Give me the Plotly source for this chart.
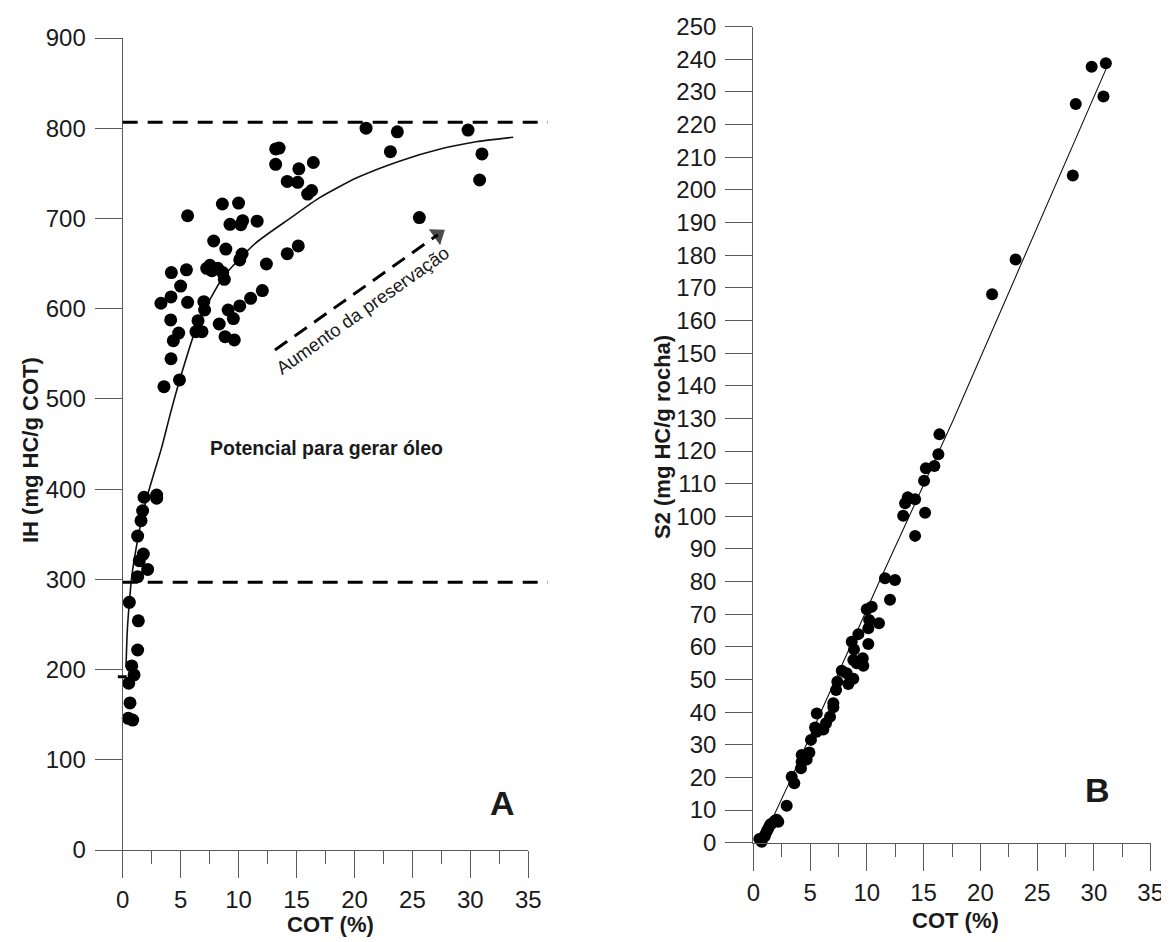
import plotly.graph_objects as go

# page body adds an 8 px margin; size the figure so the whole page matches 1169x942
PAGE_W, PAGE_H, BODY = 1169, 942, 8
W, H = PAGE_W - BODY, PAGE_H - BODY
FONT = "Liberation Sans, Arial, sans-serif"
INK = "#1a1a1a"
AXC = "#5a5a5a"


def fx(p):  # page pixel -> paper x
    return (p - BODY) / W


def fy(p):  # page pixel -> paper y
    return 1 - (p - BODY) / H


# ---------------- Panel A : IH vs COT ----------------
cot_a = [21.0, 23.7, 23.1, 13.5, 13.2, 13.2, 15.2, 16.45, 14.2, 15.1, 15.96, 16.3, 25.6,
         8.6, 10.0, 5.6, 9.26, 10.35, 10.2, 11.6, 7.85, 8.9, 10.3, 10.1, 12.4, 14.2, 15.15,
         7.53, 8.2, 7.25, 8.63, 8.77, 4.2, 5.5, 5.0, 4.17, 3.3, 5.6, 7.0, 7.07, 4.14, 4.83,
         4.37, 6.5, 6.32, 6.84, 9.1, 9.55, 8.33, 8.83, 9.63, 10.1, 11.04, 12.05, 4.17, 4.9,
         7.7, 29.8, 31.0, 30.8, 3.56, 1.84, 2.93, 2.93, 1.72, 1.58, 1.29, 1.78, 1.43, 2.15,
         1.29, 0.57, 1.35, 1.29, 0.78, 0.98, 0.52, 0.63, 0.48, 0.86]
ih_a = [800, 796, 774, 778, 777, 760, 755, 762, 741, 740, 727, 731, 701,
        716, 717, 703, 693.5, 697.5, 693, 697, 675, 666, 660.6, 654, 649.5, 661, 669.5,
        648, 644.7, 644.7, 640, 632.5, 640, 643, 625, 613, 606, 607, 607.7, 598.5, 587.5, 573,
        564.5, 586.7, 574.5, 574.5, 598.5, 589, 583, 569, 565.3, 603, 611.5, 620, 544.5, 521,
        642, 798, 771.5, 742.6, 513.5, 391, 393.5, 390, 376, 365, 348, 328, 320.7, 311,
        303, 274.5, 254, 221.7, 204, 194, 184.8, 163, 146, 144]

# trend curve
curve_a_x = [0.285, 0.40, 0.57, 0.78, 1.06, 1.35, 1.72, 2.07, 2.64, 3.36, 4.08, 4.94,
             6.5, 8.68, 11.5, 14.43, 17.0, 20.2, 24.0, 27.4, 30.5, 33.7]
curve_a_y = [203, 244, 274, 303, 327, 348, 372, 390, 415, 446, 482, 522,
             584, 635, 673, 700, 723, 745, 764, 777, 785, 790]

# reference levels (IH)
ih_levels = [806.6, 296.7]
level_x_end = 36.7
start_tick_ih = 192

# arrow "Aumento da preservação"
arrow_x = [13.14, 27.2]
arrow_y = [554.2, 682.0]

# ---------------- Panel B : S2 vs COT ----------------
cot_b = [16.39, 16.3, 15.95, 15.2, 15.04, 13.6, 14.25, 13.37, 13.2, 15.13, 14.25, 11.6, 12.48,
         12.04, 9.99, 10.43, 10.2, 11.07, 10.13, 9.25, 8.67, 10.13, 8.87, 9.64, 8.81, 9.69,
         9.11, 7.79, 8.23, 8.81, 7.4, 8.37, 7.29, 7.05, 7.05, 5.59, 6.76, 6.4, 5.44, 5.59, 6.17,
         5.08, 4.94, 4.26, 4.26, 4.2, 4.7, 3.38, 3.61, 2.94, 1.91, 1.47,
         0.53, 0.74, 1.03, 1.32, 1.62, 2.06, 2.2, 1.18, 1.0,
         31.05, 29.8, 30.84, 28.4, 28.14, 23.1, 21.03]
s2_b = [125.1, 119, 115.4, 114.7, 110.9, 105.8, 105.2, 104, 100.2, 101.1, 94, 81, 80.5,
        74.4, 71.5, 72.3, 68.2, 67.2, 65.7, 63.9, 61.6, 60.9, 59.2, 56.5, 56, 54.2,
        55, 52.7, 51.9, 50.2, 49.3, 48.6, 46.8, 42.7, 41.5, 39.6, 38.6, 36.6, 35.3, 34, 34.7,
        31.5, 27.6, 26.9, 24.8, 22.8, 25.5, 20.2, 18.2, 11.3, 6.7, 5.4,
        1.1, 0.3, 2.4, 4.4, 5.9, 7.0, 6.4, 3.4, 2.0,
        238.8, 237.7, 228.6, 226.3, 204.4, 178.7, 168]

line_b_x = [0.7, 3.26, 11.15, 17.6, 31.1]
line_b_y = [0, 19.1, 80.4, 129.4, 237.3]

fig = go.Figure()

# Panel A traces
fig.add_trace(go.Scatter(x=curve_a_x, y=curve_a_y, mode="lines",
                         line=dict(color="#111", width=1.6, shape="spline", smoothing=0.6),
                         xaxis="x", yaxis="y", hoverinfo="skip"))
fig.add_trace(go.Scatter(x=cot_a, y=ih_a, mode="markers",
                         marker=dict(color="#000", size=13, line=dict(width=0)),
                         cliponaxis=False, xaxis="x", yaxis="y"))
fig.add_trace(go.Scatter(x=arrow_x, y=arrow_y, mode="lines+markers",
                         line=dict(color="#000", width=3, dash="15px,9px"),
                         marker=dict(symbol="triangle-up", size=[0, 17], angleref="previous",
                                     color="#000", line=dict(width=0)),
                         cliponaxis=False, xaxis="x", yaxis="y", hoverinfo="skip"))

# Panel B traces
fig.add_trace(go.Scatter(x=line_b_x, y=line_b_y, mode="lines",
                         line=dict(color="#111", width=1.1),
                         xaxis="x2", yaxis="y2", hoverinfo="skip"))
fig.add_trace(go.Scatter(x=cot_b, y=s2_b, mode="markers",
                         marker=dict(color="#000", size=12, line=dict(width=0)),
                         cliponaxis=False, xaxis="x2", yaxis="y2"))

# dashed reference lines in A (extend slightly beyond the axis end)
XMAX = 35
for lv in ih_levels:
    fig.add_shape(type="line", xref="x domain", yref="y",
                  x0=0, x1=level_x_end / XMAX, y0=lv, y1=lv,
                  line=dict(color="#000", width=3, dash="15px,10px"))
fig.add_shape(type="line", xref="x domain", yref="y",
              x0=-0.012, x1=0.01, y0=start_tick_ih, y1=start_tick_ih,
              line=dict(color="#000", width=3))


def axis_common(dom, rng, dtick, standoff, minor=False):
    d = dict(domain=dom, range=rng, dtick=dtick, tick0=0, showgrid=False, zeroline=False,
             showline=True, linecolor=AXC, linewidth=1.2, automargin=False,
             ticks="outside", ticklen=27, tickwidth=1.2, tickcolor=AXC,
             ticklabelstandoff=standoff,
             tickfont=dict(family=FONT, size=24, color=INK))
    if minor:
        d["minor"] = dict(dtick=dtick / 2, ticks="outside", ticklen=13, tickwidth=1.2,
                          tickcolor=AXC, showgrid=False)
    return d


xa = axis_common([fx(122.7), fx(528.3)], [0, 35], 5, 1, minor=True)
xa.update(anchor="y")
ya = axis_common([fy(850), fy(38)], [0, 900], 100, 4)
ya.update(anchor="x")
xb = axis_common([fx(753.3), fx(1150.7)], [0, 35], 5, 1, minor=True)
xb.update(anchor="y2")
yb = axis_common([fy(842.7), fy(26.7)], [0, 250], 10, 4)
yb.update(anchor="x2")


def ptext(text, px, py, size, angle=0, bold=True):
    return dict(text=f"<b>{text}</b>" if bold else text, x=fx(px), y=fy(py),
                xref="paper", yref="paper", xanchor="center", yanchor="middle",
                textangle=angle, showarrow=False,
                font=dict(family=FONT, size=size, color=INK))


ann = [
    ptext("COT (%)", 330, 924, 22),
    ptext("COT (%)", 955, 920, 22),
    ptext("IH (mg HC/g COT)", 30, 450, 22, angle=-90),
    ptext("S2 (mg HC/g rocha)", 662, 437, 22, angle=-90),
    dict(text="<b>Potencial para gerar óleo</b>", x=17.56, y=445.6, xref="x", yref="y",
         xanchor="center", yanchor="middle", showarrow=False,
         font=dict(family=FONT, size=19.5, color=INK)),
    dict(text="Aumento da preservação", x=20.65, y=598.5, xref="x", yref="y",
         xanchor="center", yanchor="middle", textangle=-35.3, showarrow=False,
         font=dict(family=FONT, size=18.5, color=INK)),
    dict(text="<b>A</b>", x=32.8, y=52, xref="x", yref="y", showarrow=False,
         xanchor="center", yanchor="middle", font=dict(family=FONT, size=34, color=INK)),
    dict(text="<b>B</b>", x=30.3, y=16.1, xref="x2", yref="y2", showarrow=False,
         xanchor="center", yanchor="middle", font=dict(family=FONT, size=34, color=INK)),
]

fig.update_layout(width=W, height=H, margin=dict(l=0, r=0, t=0, b=0, pad=0, autoexpand=False),
                  paper_bgcolor="white", plot_bgcolor="white", showlegend=False,
                  xaxis=xa, yaxis=ya, xaxis2=xb, yaxis2=yb, annotations=ann,
                  font=dict(family=FONT, color=INK))

fig.write_html("out.html")
